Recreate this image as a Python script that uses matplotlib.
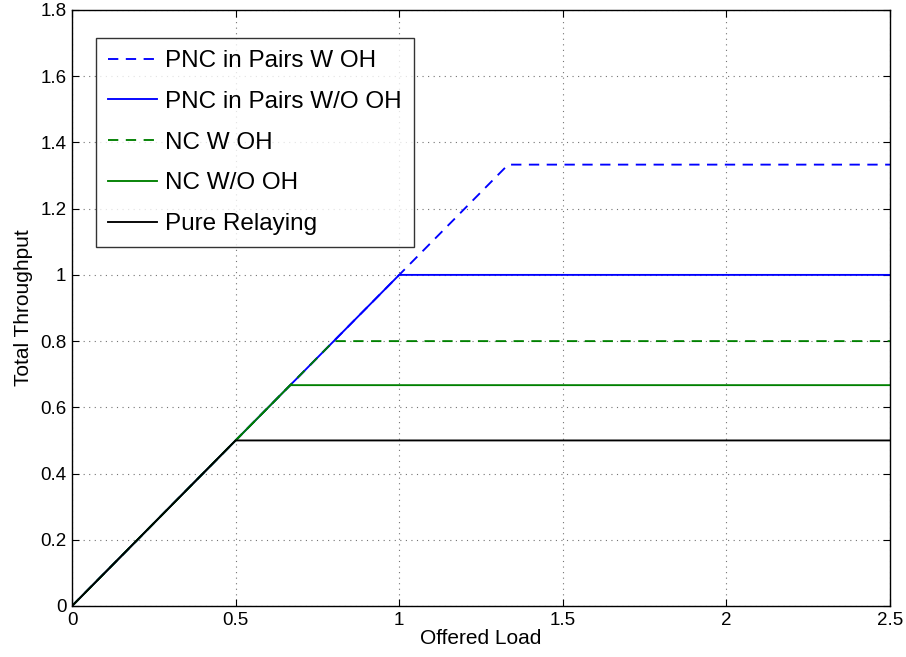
import matplotlib
matplotlib.use("Agg")
import matplotlib.pyplot as plt

plt.rcParams['font.family'] = ['Liberation Sans', 'DejaVu Sans']

# Data (offered load breakpoints and total throughput)
pnc_w_x = [0, 1.333, 2.5]
pnc_w_y = [0, 1.333, 1.333]
pnc_wo_x = [0, 1.0, 2.5]
pnc_wo_y = [0, 1.0, 1.0]
nc_w_x = [0, 0.8, 2.5]
nc_w_y = [0, 0.8, 0.8]
nc_wo_x = [0, 0.667, 2.5]
nc_wo_y = [0, 0.667, 0.667]
pure_x = [0, 0.5, 2.5]
pure_y = [0, 0.5, 0.5]

labels = ["PNC in Pairs W OH", "PNC in Pairs W/O OH", "NC W OH", "NC W/O OH", "Pure Relaying"]
xticks = [0, 0.5, 1, 1.5, 2, 2.5]
xticklabels = ["0", "0.5", "1", "1.5", "2", "2.5"]
yticks = [0, 0.2, 0.4, 0.6, 0.8, 1.0, 1.2, 1.4, 1.6, 1.8]
yticklabels = ["0", "0.2", "0.4", "0.6", "0.8", "1", "1.2", "1.4", "1.6", "1.8"]

fig = plt.figure(figsize=(9.06, 6.57), dpi=100)
ax = fig.add_axes([72/906, 51/657, (890-72)/906, (606-10)/657])

blue = (0, 0, 1)
green = (0, 0.5, 0)
lw = 1.35
dash = (0, (5.5, 4.0))
ax.plot(pnc_w_x, pnc_w_y, color=blue, ls=dash, lw=lw, label=labels[0])
ax.plot(pnc_wo_x, pnc_wo_y, color=blue, ls='-', lw=lw, label=labels[1])
ax.plot(nc_w_x, nc_w_y, color=green, ls=dash, lw=lw, label=labels[2])
ax.plot(nc_wo_x, nc_wo_y, color=green, ls='-', lw=lw, label=labels[3])
ax.plot(pure_x, pure_y, color='black', ls='-', lw=lw, label=labels[4])

ax.set_xlim(0, 2.5)
ax.set_ylim(0, 1.8)
ax.set_xticks(xticks)
ax.set_xticklabels(xticklabels)
ax.set_yticks(yticks)
ax.set_yticklabels(yticklabels)
ax.tick_params(direction='in', top=True, right=True, labelsize=13.5, length=5, pad=4)
ax.grid(True, ls=(0, (1, 4)), color='0.45', lw=0.8)
for s in ax.spines.values():
    s.set_linewidth(1.0)
ax.set_xlabel("Offered Load", fontsize=15, labelpad=0)
ax.set_ylabel("Total Throughput", fontsize=15, labelpad=5)

leg = ax.legend(loc='upper left', bbox_to_anchor=(24/818, 1 - 28/596), fontsize=17.5,
                frameon=True, fancybox=False, edgecolor='black', borderpad=0.5,
                handlelength=2.0, handletextpad=0.33, labelspacing=0.77, borderaxespad=0)
leg.get_frame().set_linewidth(1.0)

fig.savefig("out.png", dpi=100)
